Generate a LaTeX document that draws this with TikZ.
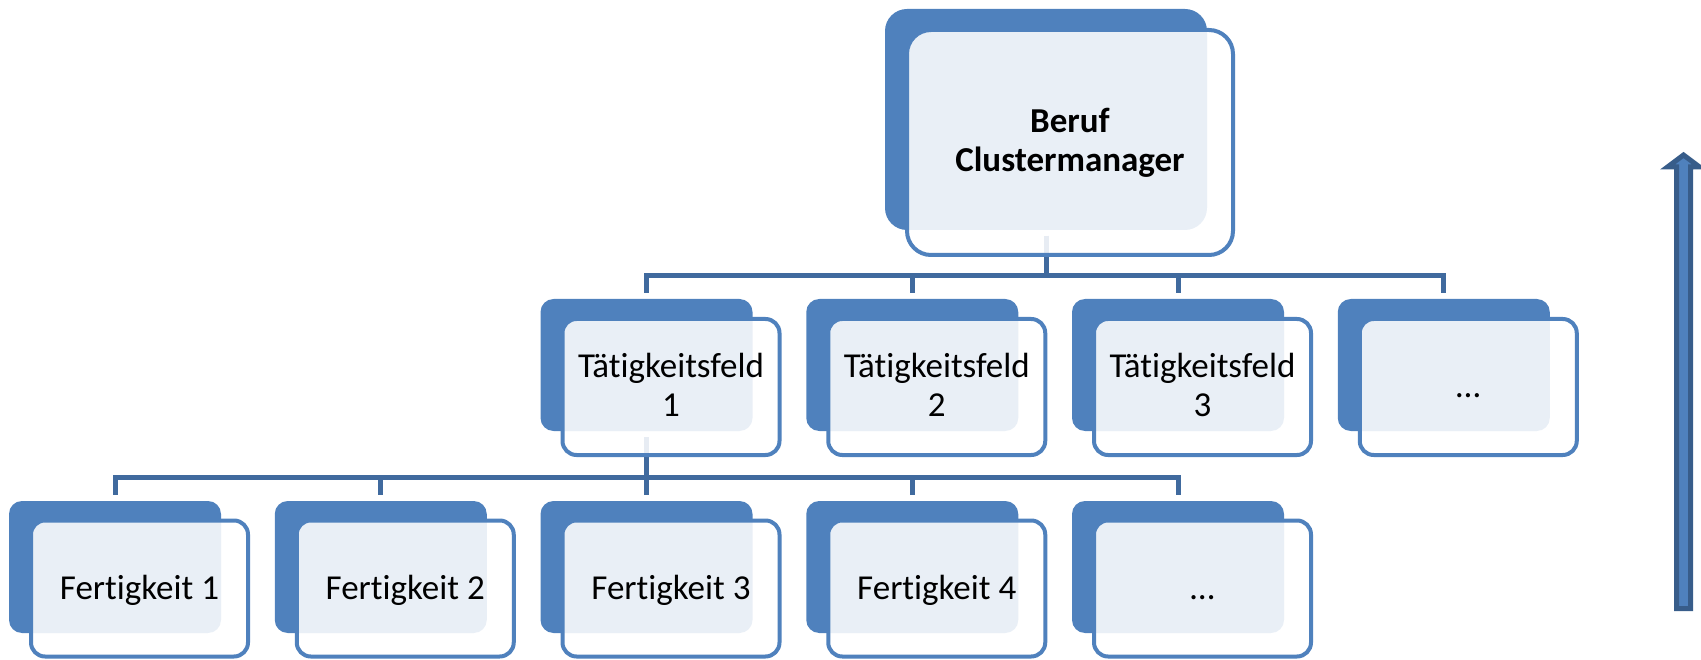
\documentclass[tikz,border=0pt]{standalone}
\usepackage{fontspec}
\setmainfont{Carlito}[Ligatures=NoCommon]
\usetikzlibrary{calc}
\definecolor{acc}{HTML}{4F81BD}
\definecolor{conn}{RGB}{64,106,158}
\definecolor{arrline}{HTML}{385D8A}
\tikzset{
  backbox/.style={fill=acc, draw=none, rounded corners=13pt, minimum width=212pt,
    minimum height=132pt, inner sep=0pt, outer sep=0pt},
  frontbox/.style={fill=white, fill opacity=0.88, draw=acc, line width=4pt,
    rounded corners=14pt, minimum width=217pt, minimum height=136pt, inner sep=0pt, outer sep=0pt},
  lbl/.style={inner sep=0pt, outer sep=0pt, text=black, anchor=base,
    font=\fontsize{35}{39}\selectfont},
  connector/.style={draw=conn, line width=5pt},
  bigarrow/.style={fill=acc, draw=arrline, line width=5pt, line join=miter}
}
\begin{document}
\begin{tikzpicture}[x=1pt,y=-1pt]
\useasboundingbox (0,0) rectangle (1701,660);
% back boxes
\node[backbox, minimum width=322pt, minimum height=221pt, rounded corners=22pt] (b0) at (1046,119.5) {};
\node[backbox] (r2b1) at (646.5,365) {};
\node[backbox] (r2b2) at (912.25,365) {};
\node[backbox] (r2b3) at (1178,365) {};
\node[backbox] (r2b4) at (1443.75,365) {};
\node[backbox] (r3b1) at (115,567) {};
\node[backbox] (r3b2) at (380.75,567) {};
\node[backbox] (r3b3) at (646.5,567) {};
\node[backbox] (r3b4) at (912.25,567) {};
\node[backbox] (r3b5) at (1178,567) {};
% connectors
\foreach \c in {r2b1,r2b2,r2b3,r2b4}
  \draw[connector] ($(b0.south)+(0,6)$) -- ++(0,40) -| ($(\c.north)+(0,-6)$);
\foreach \c in {r3b1,r3b2,r3b3,r3b4,r3b5}
  \draw[connector] ($(r2b1.south)+(0,6)$) -- ++(0,40) -| ($(\c.north)+(0,-6)$);
% front boxes
\node[frontbox, minimum width=326pt, minimum height=225pt, rounded corners=24pt] (f0) at (1070,142.5) {};
\node[frontbox] (r2f1) at (671,387) {};
\node[frontbox] (r2f2) at (936.75,387) {};
\node[frontbox] (r2f3) at (1202.5,387) {};
\node[frontbox] (r2f4) at (1468.25,387) {};
\node[frontbox] (r3f1) at (139.5,588.5) {};
\node[frontbox] (r3f2) at (405.25,588.5) {};
\node[frontbox] (r3f3) at (671,588.5) {};
\node[frontbox] (r3f4) at (936.75,588.5) {};
\node[frontbox] (r3f5) at (1202.5,588.5) {};
% labels
\node[lbl, font=\fontsize{35}{39}\selectfont\bfseries] (t0) at ($(f0.center)+(0,-9.5)$)
  {\begin{tabular}[t]{@{}c@{}}Beruf\\Clustermanager\end{tabular}};
\node[lbl] (t21) at ($(r2f1.center)+(0,-9.5)$) {\begin{tabular}[t]{@{}c@{}}Tätigkeitsfeld\\1\end{tabular}};
\node[lbl] (t22) at ($(r2f2.center)+(0,-9.5)$) {\begin{tabular}[t]{@{}c@{}}Tätigkeitsfeld\\2\end{tabular}};
\node[lbl] (t23) at ($(r2f3.center)+(0,-9.5)$) {\begin{tabular}[t]{@{}c@{}}Tätigkeitsfeld\\3\end{tabular}};
\node[lbl] (t24) at ($(r2f4.center)+(0,11)$) {…};
\node[lbl] (t31) at ($(r3f1.center)+(0,11)$) {Fertigkeit 1};
\node[lbl] (t32) at ($(r3f2.center)+(0,11)$) {Fertigkeit 2};
\node[lbl] (t33) at ($(r3f3.center)+(0,11)$) {Fertigkeit 3};
\node[lbl] (t34) at ($(r3f4.center)+(0,11)$) {Fertigkeit 4};
\node[lbl] (t35) at ($(r3f5.center)+(0,11)$) {…};
% upward arrow
\draw[bigarrow] (1676.5,608.5) -- (1676.5,167) -- (1667.5,167) -- (1683.5,155)
  -- (1699.5,167) -- (1690.5,167) -- (1690.5,608.5) -- cycle;
\end{tikzpicture}
\end{document}
